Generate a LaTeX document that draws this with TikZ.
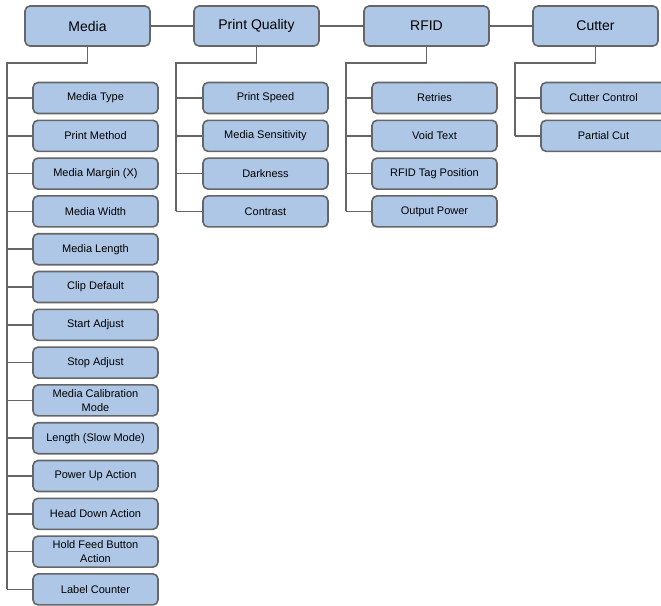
\documentclass[tikz,border=0pt]{standalone}
\usepackage{fontspec}
\setmainfont{Liberation Sans}
\definecolor{boxfill}{RGB}{174,199,230}
\definecolor{boxline}{RGB}{102,102,102}
\begin{document}
\begin{tikzpicture}[x=1pt,y=-1pt,
  topbox/.style={draw=boxline,fill=boxfill,line width=1.6pt,rounded corners=5pt,minimum width=125pt,minimum height=40pt,inner sep=1pt,font=\fontsize{14}{16}\selectfont},
  childbox/.style={draw=boxline,fill=boxfill,line width=1.6pt,rounded corners=5pt,minimum width=125pt,minimum height=31pt,inner sep=1pt,align=center,font=\fontsize{11}{13.5}\selectfont},
  conn/.style={draw=boxline,line width=1.6pt}]
\useasboundingbox (0,0) rectangle (661,605);
% top row
\node[topbox] (media) at (87.5,26) {Media};
\node[topbox] (pq) at (256.5,26) {Print Quality};
\node[topbox] (rfid) at (426.5,26) {RFID};
\node[topbox] (cut) at (595.5,26) {Cutter};
\draw[conn] (media.east) -- (pq.west);
\draw[conn] (pq.east) -- (rfid.west);
\draw[conn] (rfid.east) -- (cut.west);
% trunk corners
\coordinate (mtop) at (7,63);
\coordinate (ptop) at (176,63);
\coordinate (rtop) at (346,63);
\coordinate (ctop) at (515,63);
% Media children
\foreach \t [count=\i from 0] in {Media Type,Print Method,Media Margin (X),Media Width,Media Length,Clip Default,Start Adjust,Stop Adjust,{Media Calibration\\Mode},Length (Slow Mode),Power Up Action,Head Down Action,{Hold Feed Button\\Action},Label Counter}{
  \node[childbox] (mc\i) at (95.5,98+37.8*\i) {\t};
  \draw[conn] (mtop |- mc\i.west) -- (mc\i.west);
}
\draw[conn] (media.south) |- (mtop) -- (mtop |- mc13.west);
% Print Quality children
\foreach \t [count=\i from 0] in {Print Speed,Media Sensitivity,Darkness,Contrast}{
  \node[childbox] (pc\i) at (265.5,98+37.8*\i) {\t};
  \draw[conn] (ptop |- pc\i.west) -- (pc\i.west);
}
\draw[conn] (pq.south) |- (ptop) -- (ptop |- pc3.west);
% RFID children
\foreach \t [count=\i from 0] in {Retries,Void Text,RFID Tag Position,Output Power}{
  \node[childbox] (rc\i) at (434.5,98+37.8*\i) {\t};
  \draw[conn] (rtop |- rc\i.west) -- (rc\i.west);
}
\draw[conn] (rfid.south) |- (rtop) -- (rtop |- rc3.west);
% Cutter children
\foreach \t [count=\i from 0] in {Cutter Control,Partial Cut}{
  \node[childbox] (cc\i) at (603.5,98+37.8*\i) {\t};
  \draw[conn] (ctop |- cc\i.west) -- (cc\i.west);
}
\draw[conn] (cut.south) |- (ctop) -- (ctop |- cc1.west);
\end{tikzpicture}
\end{document}
